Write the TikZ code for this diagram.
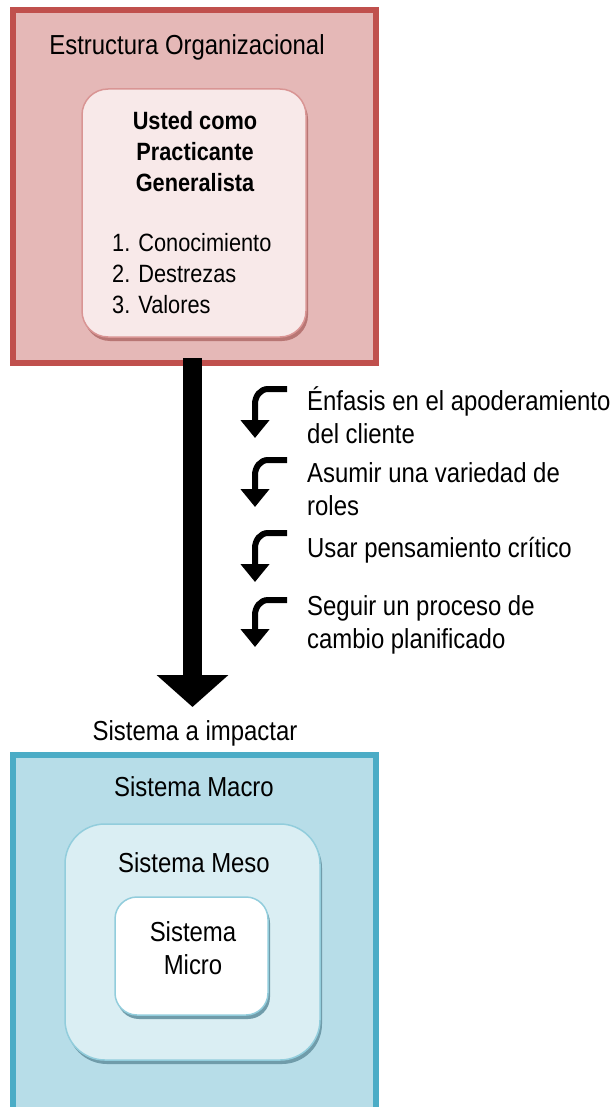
\documentclass[tikz,border=0pt]{standalone}
\usepackage{fontspec}
\setmainfont{Liberation Sans}[FakeStretch=0.87]
\usetikzlibrary{arrows.meta,shadows}
\definecolor{orgred}{RGB}{192,80,77}
\definecolor{orgfill}{RGB}{229,184,183}
\definecolor{usfill}{RGB}{248,233,233}
\definecolor{usline}{RGB}{217,149,148}
\definecolor{usshadow}{RGB}{184,118,116}
\definecolor{sysblue}{RGB}{75,172,198}
\definecolor{sysfill}{RGB}{183,221,232}
\definecolor{mesofill}{RGB}{218,238,243}
\definecolor{mesoline}{RGB}{146,205,220}
\definecolor{sysshadow}{RGB}{112,156,170}
\def\bigfont{\fontsize{27.5}{33}\selectfont}
\def\boxfont{\fontsize{25}{31}\selectfont}
\tikzset{
	labeltext/.style={font=\bigfont, inner sep=0pt},
	turnarrow/.style={line width=6pt, -{Triangle[width=28pt,length=18pt]}},
	bigbox/.style={line width=6pt, inner sep=0pt, outer sep=0pt},
	softbox/.style={line width=1.5pt, inner sep=0pt, outer sep=0pt},
}

\begin{document}
\begin{tikzpicture}[x=1pt, y=-1pt]
			%%%%% START %%%%%
			\useasboundingbox (0,0) rectangle (614,1107);
			
			% organizacion
			\node[bigbox, draw=orgred, fill=orgfill, minimum width=363pt, minimum height=353pt] (org) at (194.5,186.5) {};
			\node[labeltext] (orgname) at (187,47) {Estructura Organizacional};
			
			\node[softbox, draw=usline, fill=usfill, rounded corners=26pt, minimum width=224pt, minimum height=248pt,
				drop shadow={shadow xshift=2pt, shadow yshift=-4pt, fill=usshadow, opacity=1}] (usted) at (194,213) {};
			\node[inner sep=0pt, font=\boxfont\bfseries, align=center] (ustedtitle) at (195,152) {Usted como\\Practicante\\Generalista};
			\node[inner sep=0pt, font=\boxfont, align=left, anchor=west] (ustedlist) at (112,274) {1. Conocimiento\\2. Destrezas\\3. Valores};
			
			% flecha grande
			\coordinate (bigtip) at (192.5,707);
			\draw[line width=19pt, -{Triangle[width=70pt,length=32pt]}] ([yshift=5pt]org.south -| bigtip) -- (bigtip);
			
			\foreach \ya/\yb/\yt/\txt [count=\i] in {
				389/438/415/{Énfasis en el apoderamiento\\del cliente},
				460/507/489/{Asumir una variedad de\\roles},
				533/582/550/{Usar pensamiento crítico},
				600/647/625/{Seguir un proceso de\\cambio planificado}}{
				\draw[turnarrow] (287,\ya) -- (268,\ya) to[out=180,in=90] (255,{\ya+15}) -- (255,\yb);
				\node[labeltext, anchor=west, align=left] (cue\i) at (307,\yt) {\txt};
			}
			
			\node[labeltext] (impact) at (195,733) {Sistema a impactar};
			
			% sistemas
			\node[bigbox, draw=sysblue, fill=sysfill, minimum width=363pt, minimum height=360pt] (macro) at (194.5,935) {};
			\node[labeltext] (macroname) at (194,787) {Sistema Macro};
			
			\node[softbox, draw=mesoline, fill=mesofill, rounded corners=40pt, minimum width=255pt, minimum height=236pt,
				drop shadow={shadow xshift=2pt, shadow yshift=-4pt, fill=sysshadow, opacity=1}] (meso) at (192.5,942) {};
			\node[labeltext] (mesoname) at (194,863) {Sistema Meso};
			
			\node[softbox, draw=mesoline, fill=white, rounded corners=22pt, minimum width=153pt, minimum height=118pt,
				drop shadow={shadow xshift=2pt, shadow yshift=-4pt, fill=sysshadow, opacity=1}] (micro) at (191.5,956) {};
			\node[labeltext, align=center] (microname) at (193,948) {Sistema\\Micro};
			
			%%%%% END %%%%%
\end{tikzpicture}
\end{document}
